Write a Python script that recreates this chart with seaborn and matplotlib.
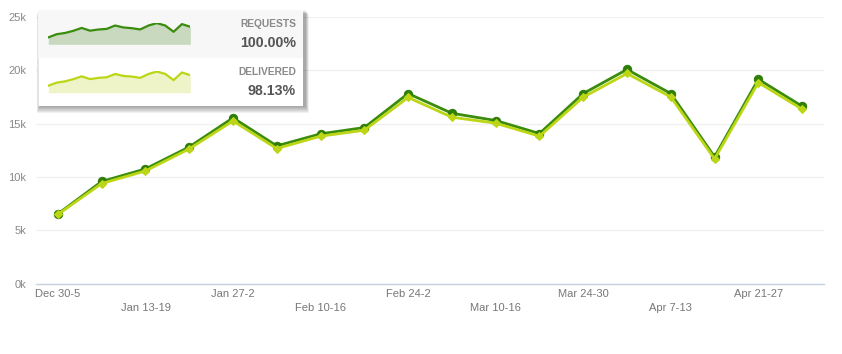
import numpy as np
import pandas as pd
import seaborn as sns
import matplotlib
matplotlib.use("Agg")
from matplotlib import pyplot as plt
from matplotlib.patches import Rectangle

weeks = ["Dec 30-5", "Jan 6-12", "Jan 13-19", "Jan 20-26", "Jan 27-2", "Feb 3-9",
         "Feb 10-16", "Feb 17-23", "Feb 24-2", "Mar 3-9", "Mar 10-16", "Mar 17-23",
         "Mar 24-30", "Mar 31-6", "Apr 7-13", "Apr 14-20", "Apr 21-27", "Apr 28-4"]
requests = [6530, 9570, 10750, 12810, 15540, 12910, 14040, 14630, 17820,
            15970, 15290, 14070, 17820, 20080, 17820, 11880, 19160, 16630]
delivered = [6480, 9380, 10560, 12630, 15250, 12660, 13820, 14380, 17450,
             15600, 15040, 13820, 17480, 19700, 17500, 11690, 18850, 16350]
yticks = [0, 5000, 10000, 15000, 20000, 25000]
ytick_labels = ["0k", "5k", "10k", "15k", "20k", "25k"]
legend_names = ["REQUESTS", "DELIVERED"]
legend_pcts = ["100.00%", "98.13%"]

dark = "#3a8c0c"
dark_mk = "#2f7e08"
lime = "#bcd616"
fill_dark = "#c8d9bf"
fill_lime = "#eef4c8"

sns.set_style("white")
plt.rcParams['font.family'] = ['Liberation Sans', 'DejaVu Sans']

W, H = 842, 354
fig = plt.figure(figsize=(W / 100, H / 100), dpi=100)


def px(x0, y0, x1, y1):
    # pixel box -> figure rect
    return [x0 / W, 1 - y1 / H, (x1 - x0) / W, (y1 - y0) / H]


df = pd.DataFrame({"i": np.arange(len(weeks)), "req": requests, "del": delivered})

ax = fig.add_axes(px(36, 17, 824, 283.5))
sns.lineplot(data=df, x="i", y="req", ax=ax, color=dark, linewidth=2, marker="o",
             markersize=6, markeredgecolor=dark_mk, markerfacecolor=dark_mk, clip_on=False, zorder=3)
sns.lineplot(data=df, x="i", y="del", ax=ax, color=lime, linewidth=2, marker="D",
             markersize=4.5, markeredgecolor=lime, markerfacecolor=lime, clip_on=False, zorder=4)
ax.set_xlim(-0.5, len(weeks) - 0.5)
ax.set_ylim(0, 25000)
ax.set_yticks(yticks)
ax.set_yticklabels(ytick_labels)
ax.yaxis.grid(True, color="#f0f0f0", linewidth=1)
ax.set_xlabel("")
ax.set_ylabel("")
for s in ["top", "right", "left"]:
    ax.spines[s].set_visible(False)
ax.spines["bottom"].set_color("#c4d2e0")
ax.spines["bottom"].set_linewidth(1)

# every other week labelled, alternating between two rows
shown = list(range(0, len(weeks), 2))
labels = [("\n" if k % 4 == 2 else "") + weeks[k] for k in shown]
ax.set_xticks(shown)
ax.set_xticklabels(labels, linespacing=1.55)
ax.set_xticks(np.arange(-0.5, len(weeks)), minor=True)
ax.tick_params(axis="x", which="major", length=0, pad=4, labelsize=8, labelcolor="#777777")
ax.tick_params(axis="x", which="minor", length=5, width=1, color="#c4d2e0", direction="out")
ax.tick_params(axis="y", length=0, pad=7, labelsize=8, labelcolor="#888888")

# tooltip-like legend box with a soft shadow
for d in range(1, 8):
    fig.patches.append(Rectangle(((40 - d * 0.5) / W, 1 - (106 + d) / H),
                                 (265 + d) / W, (96 + d * 0.5) / H,
                                 transform=fig.transFigure, facecolor="black",
                                 alpha=0.055, edgecolor="none", zorder=5))
box = fig.add_axes(px(38, 10, 303, 106), zorder=10)
box.set_xlim(0, 1)
box.set_ylim(0, 1)
box.axis("off")
box.add_patch(Rectangle((0, 0), 1, 1, facecolor="white", edgecolor="#e6e6e6", linewidth=0.6))
box.add_patch(Rectangle((0, 1 - 47.5 / 96), 1, 47.5 / 96, facecolor="#f7f7f7", edgecolor="none"))

rows = [(requests, dark, fill_dark, 22.5, 44.3, 24.3, 43.3),
        (delivered, lime, fill_lime, 70.5, 92.7, 72.3, 91)]
for n, (vals, lc, fc, top, bot, ty1, ty2) in enumerate(rows):
    sp = fig.add_axes(px(48.3, top, 190.3, bot), zorder=11)
    sp.fill_between(np.arange(len(vals)), vals, 0, color=fc, linewidth=0)
    sns.lineplot(x=np.arange(len(vals)), y=vals, ax=sp, color=lc, linewidth=1.6)
    sp.set_xlim(0, len(vals) - 1)
    sp.set_ylim(0, max(requests) * 1.03)
    sp.axis("off")
    fig.text(296 / W, 1 - ty1 / H, legend_names[n], ha="right", va="center",
             fontsize=7.4, fontweight="bold", color="#8a8a8a", zorder=12)
    fig.text(296 / W, 1 - ty2 / H, legend_pcts[n], ha="right", va="center",
             fontsize=10.2, fontweight="bold", color="#555555", zorder=12)

fig.savefig("out.png", dpi=100)
